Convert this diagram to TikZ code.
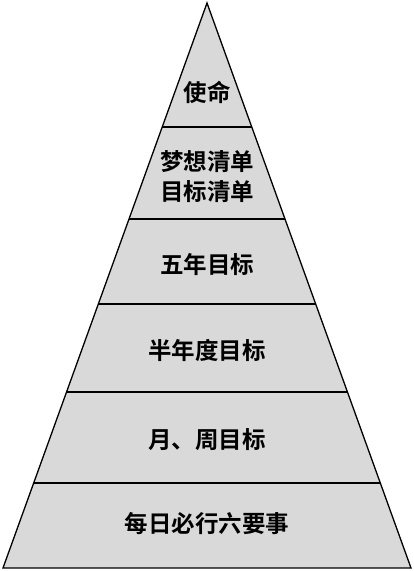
\documentclass[tikz,border=0pt]{standalone}
\usepackage{fontspec}
\setmainfont{Noto Sans CJK SC}[BoldFont={Noto Sans CJK SC Bold}]
\begin{document}
\begin{tikzpicture}[x=1pt,y=-1pt,
  lbl/.style={font=\bfseries\fontsize{23.5}{30}\selectfont, align=center, text=black, inner sep=0pt},
  div/.style={line width=1.2pt, draw=black}]
\useasboundingbox (0,0) rectangle (414,571);
\coordinate (apex) at (207,3);
\coordinate (bl) at (3,568);
\coordinate (br) at (411,568);
\fill[fill={rgb,255:red,217;green,217;blue,217}] (apex) -- (bl) -- (br) -- cycle;
\begin{scope}
\clip (apex) -- (bl) -- (br) -- cycle;
\foreach \yy in {127,219,304,392,483} {
  \draw[div] (0,\yy) -- (414,\yy);
}
\end{scope}
\draw[line width=1.3pt, line join=miter] (apex) -- (bl) -- (br) -- cycle;
\node[lbl] (n1) at (207,92) {使命};
\node[lbl] (n2) at (207,177) {梦想清单\\目标清单};
\node[lbl] (n3) at (207,265) {五年目标};
\node[lbl] (n4) at (207,350) {半年度目标};
\node[lbl] (n5) at (207,440) {月、周目标};
\node[lbl] (n6) at (207,524) {每日必行六要事};
\end{tikzpicture}
\end{document}
